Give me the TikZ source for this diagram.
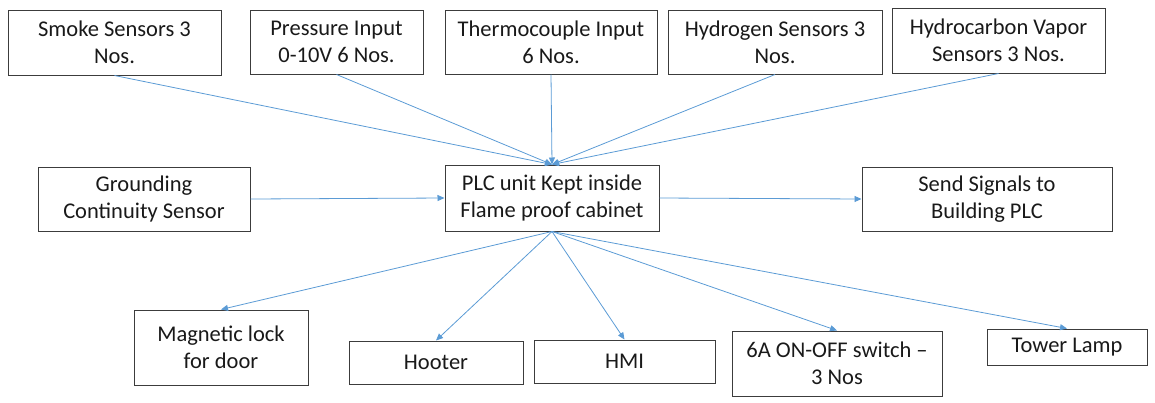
\documentclass[tikz,border=0pt]{standalone}
\usepackage{fontspec}
\setmainfont{Carlito}
\usetikzlibrary{arrows.meta}
\definecolor{linkblue}{RGB}{91,155,213}
\definecolor{boxedge}{RGB}{60,60,60}
\begin{document}
\begin{tikzpicture}[x=1pt,y=-1pt,
  box/.style={draw=boxedge, line width=1pt, align=center, inner sep=0pt,
    font=\fontsize{22.5}{27}\selectfont, text=black!90},
  link/.style={draw=linkblue, line width=0.8pt, -{Triangle[length=7pt,width=6pt]}}]
\useasboundingbox (0,0) rectangle (1155,402);
% top row
\node[box, minimum width=213pt, minimum height=65pt] (smoke) at (114.5,42.5) {Smoke Sensors 3\\Nos.};
\node[box, minimum width=173pt, minimum height=64pt] (press) at (336.5,42) {Pressure Input\\0-10V 6 Nos.};
\node[box, minimum width=212pt, minimum height=64pt] (thermo) at (551,42) {Thermocouple Input\\6 Nos.};
\node[box, minimum width=214pt, minimum height=64pt] (hydro) at (775,42) {Hydrogen Sensors 3\\Nos.};
\node[box, minimum width=213pt, minimum height=65pt] (hcarb) at (998.5,40.5) {Hydrocarbon Vapor\\Sensors 3 Nos.};
% middle row
\node[box, minimum width=212pt, minimum height=64pt] (ground) at (144,199) {Grounding\\Continuity Sensor};
\node[box, minimum width=214pt, minimum height=66pt] (plc) at (552,198) {PLC unit Kept inside\\Flame proof cabinet};
\node[box, minimum width=250pt, minimum height=64pt] (send) at (987,199) {Send Signals to\\Building PLC};
% bottom row
\node[box, minimum width=174pt, minimum height=75pt] (mag) at (221,347.5) {Magnetic lock\\for door};
\node[box, minimum width=174pt, minimum height=43pt] (hooter) at (436,362.5) {Hooter};
\node[box, minimum width=181pt, minimum height=43pt] (hmi) at (624.5,361.5) {HMI};
\node[box, minimum width=210pt, minimum height=65pt] (sixa) at (837,363.5) {6A ON-OFF switch --\\3 Nos};
\node[box, minimum width=160pt, minimum height=36pt] (tower) at (1067,347) {Tower Lamp};
% inputs
\draw[link] (smoke.south) -- (plc.north);
\draw[link] (press.south) -- (plc.north);
\draw[link] (thermo.south) -- (plc.north);
\draw[link] (hydro.south) -- (plc.north);
\draw[link] (hcarb.south) -- (plc.north);
\draw[link] (ground.east) -- (plc.west);
\draw[link] (plc.east) -- (send.west);
% outputs
\draw[link] (plc.south) -- (mag.north);
\draw[link] (plc.south) -- (hooter.north);
\draw[link] (plc.south) -- (hmi.north);
\draw[link] (plc.south) -- (sixa.north);
\draw[link] (plc.south) -- (tower.north);
\end{tikzpicture}
\end{document}
